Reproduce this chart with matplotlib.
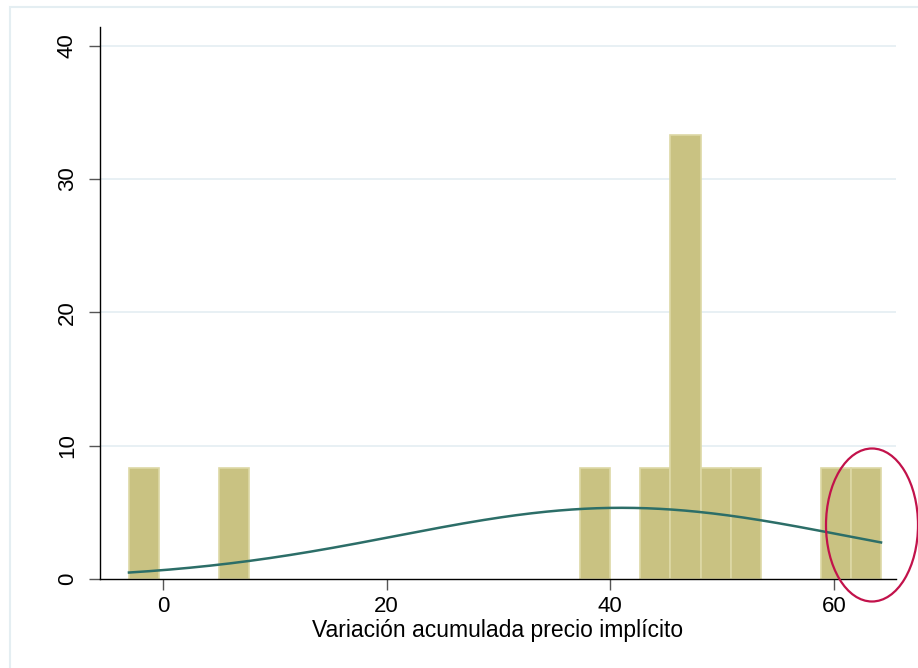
import numpy as np
import matplotlib.pyplot as plt
from matplotlib.patches import Ellipse, Rectangle

# --- data ---
bin_start = -3.04          # left edge of first bin
bin_width = 2.69
bin_pct = [8.33, 0, 0, 8.33, 0, 0, 0, 0, 0, 0, 0, 0, 0, 0, 0,
           8.33, 0, 8.33, 33.33, 8.33, 8.33, 0, 0, 8.33, 8.33]
norm_mean = 41.0           # fitted normal overlay
norm_sd = 20.1

x_ticks = [0, 20, 40, 60]
y_ticks = [0, 10, 20, 30, 40]
x_label = 'Variación acumulada precio implícito'

bar_color = '#C9C282'
bar_edge = '#DDD8A6'
line_color = '#2C6E68'
grid_color = '#E4EEF2'

fig = plt.figure(figsize=(9.18, 6.68), dpi=100)
fig.patch.set_facecolor('white')

# light outer frame (Stata graph region)
fig.add_artist(Rectangle((10 / 918, -0.1), 1.2, (668 - 7) / 668 + 0.1,
                         transform=fig.transFigure, fill=False,
                         edgecolor=grid_color, linewidth=1.5))

ax = fig.add_axes([100 / 918, 89 / 668, 796 / 918, 552 / 668])

edges = bin_start + bin_width * np.arange(len(bin_pct))
heights = np.array(bin_pct)
mask = heights > 0
ax.bar(edges[mask], heights[mask], width=bin_width, align='edge',
       color=bar_color, edgecolor=bar_edge, linewidth=1.2, zorder=2)

xs = np.linspace(bin_start, bin_start + bin_width * len(bin_pct), 300)
dens = 100 * bin_width * np.exp(-0.5 * ((xs - norm_mean) / norm_sd) ** 2) / (norm_sd * np.sqrt(2 * np.pi))
ax.plot(xs, dens, color=line_color, linewidth=1.8, zorder=3)

ax.set_xlim(-5.63, 65.55)
ax.set_ylim(0, 41.4)
ax.set_xticks(x_ticks)
ax.set_yticks(y_ticks)
ax.set_yticklabels([str(v) for v in y_ticks], rotation=90, va='center')
ax.tick_params(axis='both', direction='out', length=8, width=1, labelsize=16,
               colors='#555555', labelcolor='black', pad=4)
ax.tick_params(axis='y', pad=8)
for lbl in ax.get_xticklabels() + ax.get_yticklabels():
    lbl.set_family('Liberation Sans')
ax.set_xlabel(x_label, fontsize=16.5, family='Liberation Sans', labelpad=2)

for v in y_ticks[1:]:
    ax.axhline(v, color=grid_color, linewidth=1.2, zorder=1)

for s in ['top', 'right']:
    ax.spines[s].set_visible(False)
ax.spines['left'].set_linewidth(1)
ax.spines['bottom'].set_linewidth(1)

# red annotation ellipse around the right-most bars
fig.add_artist(Ellipse((872 / 918, 1 - 525 / 668), 92 / 918, 153 / 668,
                       transform=fig.transFigure, fill=False,
                       edgecolor='#C2124B', linewidth=1.6, zorder=10))

fig.savefig('out.png', dpi=100)
